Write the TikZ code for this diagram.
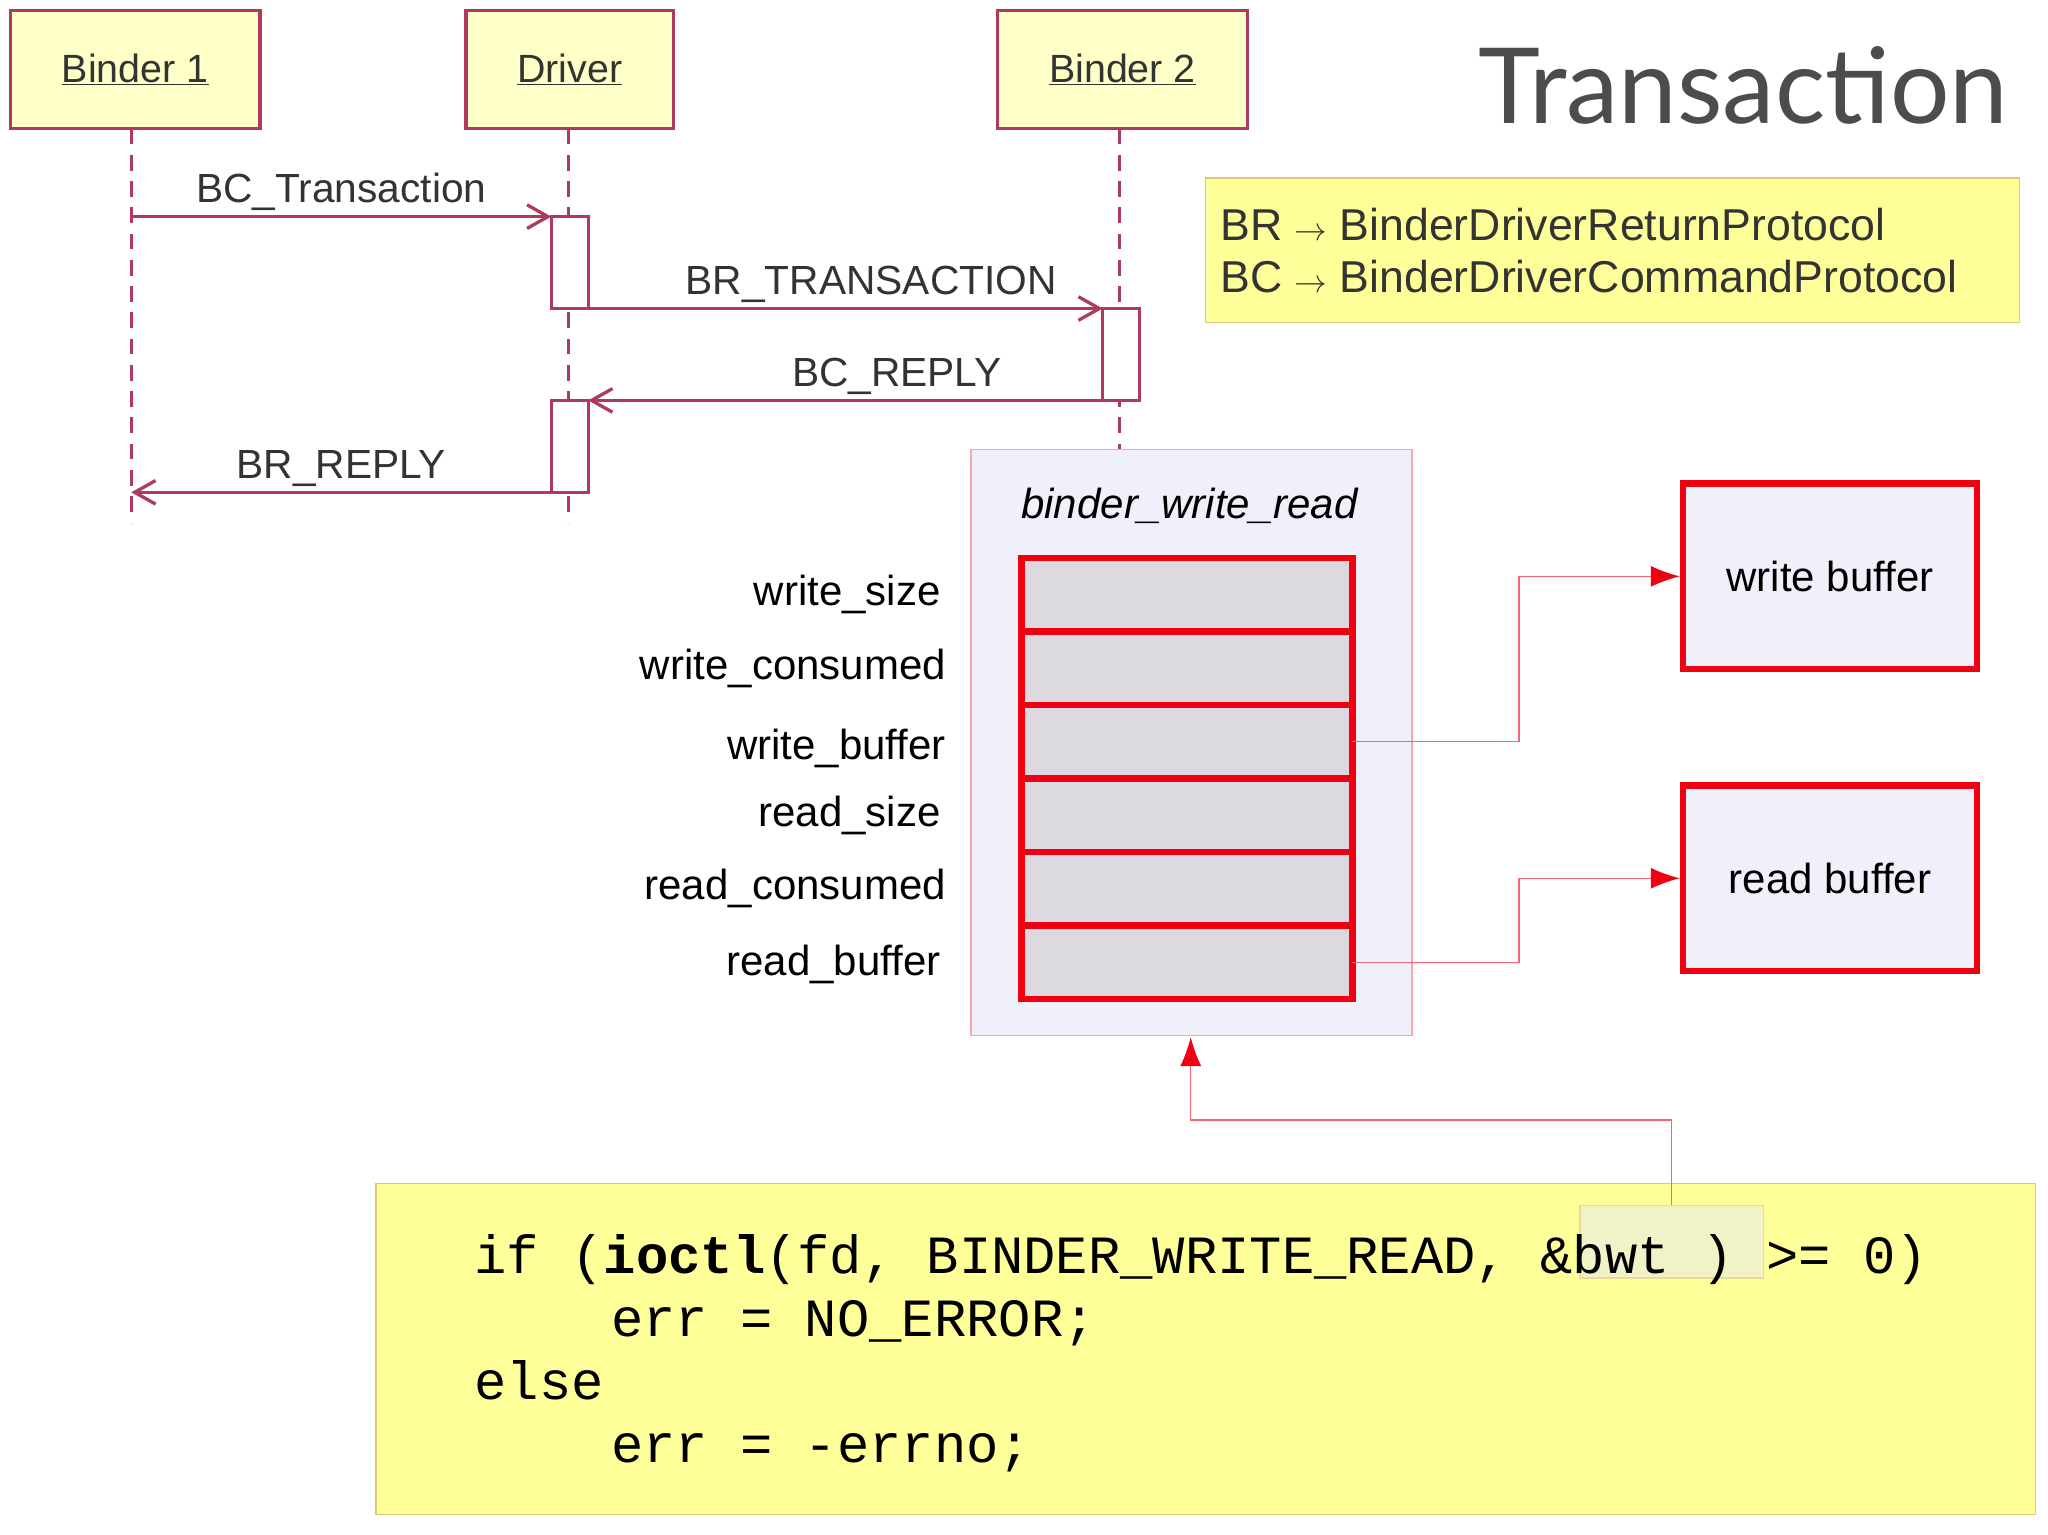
\documentclass[tikz,border=0pt]{standalone}
\usepackage{fontspec}
\setmainfont{Liberation Sans}
\setmonofont{Liberation Mono}
\newfontfamily\titlefont{Lato}
\usetikzlibrary{arrows.meta}
\definecolor{seq}{HTML}{B03A5B}
\definecolor{lbox}{HTML}{FFFFC8}
\definecolor{note}{HTML}{FFFF99}
\definecolor{noteb}{HTML}{E0C870}
\definecolor{pane}{HTML}{F0F0FA}
\definecolor{cell}{HTML}{DCDAE0}
\definecolor{rd}{HTML}{F00010}
\definecolor{hlc}{HTML}{F2F2C8}
\begin{document}
\begin{tikzpicture}[x=1pt,y=-1pt,
  actor/.style={draw=seq,fill=lbox,line width=2.5pt,minimum width=#1,minimum height=90pt,inner sep=0pt,font=\fontsize{30}{32}\selectfont,text=black!80},
  life/.style={draw=seq,line width=2.5pt,dash pattern=on 12pt off 8pt},
  act/.style={draw=seq,fill=white,line width=2.5pt},
  msg/.style={draw=seq,line width=2.5pt,-{Straight Barb[length=16pt,width=18pt]}},
  mlab/.style={font=\fontsize{31}{33}\selectfont,text=black!80,above},
  cellst/.style={draw=rd,fill=cell,line width=5pt,minimum width=252pt,minimum height=56pt,inner sep=0pt},
  flab/.style={anchor=east,font=\fontsize{32}{34}\selectfont},
  bufst/.style={draw=rd,fill=pane,line width=5pt,minimum width=224pt,minimum height=141pt,font=\fontsize{32}{34}\selectfont},
  link/.style={draw=rd!60,line width=1pt,arrows={-{Latex[length=22pt,width=16pt,color=rd,fill=rd]}}},
  code/.style={anchor=base west,font=\ttfamily\fontsize{41}{44}\selectfont}]
\useasboundingbox (0,0) rectangle (1560,1169);
\fill[white] (0,0) rectangle (1560,1169);
% actors
\node[actor=190pt] (b1) at (103,53) {\underline{Binder 1}};
\node[actor=158pt] (dr) at (434,53) {\underline{Driver}};
\node[actor=190pt] (b2) at (855,53) {\underline{Binder 2}};
\draw[life] (100,98) -- (100,398);
\draw[life] (433,98) -- (433,398);
\draw[life] (853,98) -- (853,375);
\draw[act] (420,165) rectangle (448,235);
\draw[act] (840,235) rectangle (868,305);
\draw[act] (420,305) rectangle (448,375);
\coordinate (m1a) at (100,165); \coordinate (m1b) at (420,165);
\coordinate (m2a) at (448,235); \coordinate (m2b) at (840,235);
\coordinate (m3a) at (840,305); \coordinate (m3b) at (448,305);
\coordinate (m4a) at (420,375); \coordinate (m4b) at (100,375);
\draw[msg] (m1a) -- (m1b) node[mlab,pos=0.5] {BC\_Transaction};
\draw[msg] (m2a) -- (m2b) node[mlab,pos=0.55] {BR\_TRANSACTION};
\draw[msg] (m3a) -- (m3b) node[mlab,pos=0.4] {BC\_REPLY};
\draw[msg] (m4a) -- (m4b) node[mlab,pos=0.5] {BR\_REPLY};
% title & note
\node[font=\titlefont\fontsize{80}{84}\selectfont,text=black!70] (title) at (1328,65) {Transaction};
\node[draw=noteb,fill=note,line width=1pt,minimum width=620pt,minimum height=110pt,inner sep=0pt,anchor=north west] (nt) at (918,135) {};
\node[anchor=west,align=left,font=\fontsize{34}{40}\selectfont,text=black!80] (ntx) at (926,191) {BR $\rightarrow$ BinderDriverReturnProtocol\\BC $\rightarrow$ BinderDriverCommandProtocol};
% struct
\node[draw=rd!35,fill=pane,line width=1pt,minimum width=336pt,minimum height=446pt,anchor=north west] (pn) at (739,342) {};
\node[font=\itshape\fontsize{32}{34}\selectfont] (pt) at (906,385) {binder\_write\_read};
\foreach \i/\n in {0/c1,1/c2,2/c3,3/c4,4/c5,5/c6}{
  \node[cellst] (\n) at (904,453+56*\i) {};
}
\node[flab] at (720,453) {write\_size};
\node[flab] at (724,509) {write\_consumed};
\node[flab] at (724,570) {write\_buffer};
\node[flab] at (720,621) {read\_size};
\node[flab] at (724,677) {read\_consumed};
\node[flab] at (720,735) {read\_buffer};
\node[bufst] (wb) at (1394,439) {write buffer};
\node[bufst] (rb) at (1394,669) {read buffer};
\draw[link] (1030,565) -- (1157,565) |- (wb.west);
\draw[link] (1030,733) -- (1157,733) |- (rb.west);
% code
\node[draw=noteb,fill=note,line width=1pt,minimum width=1264pt,minimum height=252pt,anchor=north west] (cb) at (286,901) {};
\node[draw=noteb!70,fill=hlc,line width=1pt,minimum width=140pt,minimum height=55pt,anchor=north west] (hl) at (1203,918) {};
\node[code] at (358,970) {if (\textbf{ioctl}(fd, BINDER\_WRITE\_READ, \&bwt ) >= 0)};
\node[code] at (462,1018) {err = NO\_ERROR;};
\node[code] at (358,1066) {else};
\node[code] at (462,1114) {err = -errno;};
\draw[link] (1273,918) -- (1273,853) -- (907,853) -- (907,790);
\end{tikzpicture}
\end{document}
